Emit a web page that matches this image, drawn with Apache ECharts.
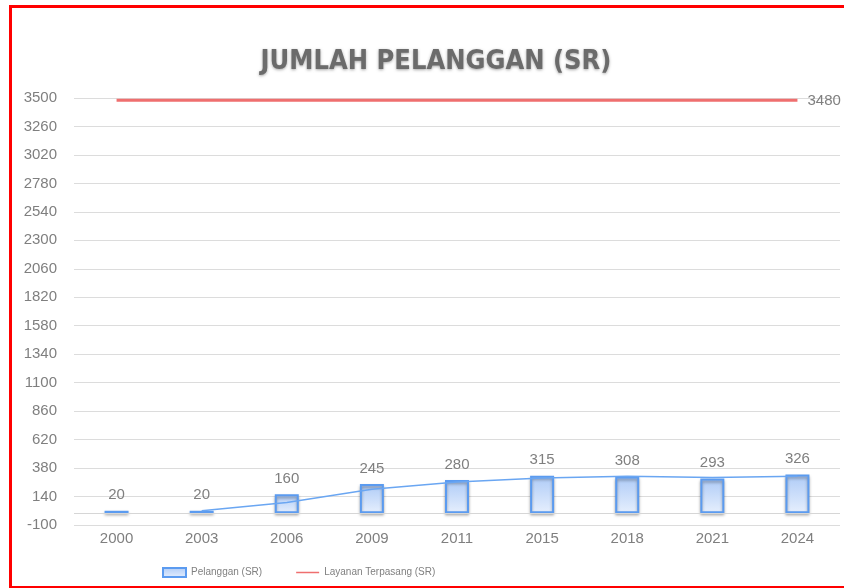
<!DOCTYPE html>
<html>
<head>
<meta charset="utf-8">
<script src="https://cdn.jsdelivr.net/npm/echarts@6/dist/echarts.min.js"></script>
<style>
html,body{margin:0;padding:0;background:#fff;overflow:hidden;}
#chart{position:absolute;left:0;top:0;width:844px;height:588px;}
#frame{position:absolute;left:9px;top:5px;width:900px;height:578px;border-top:3px solid #ff0000;border-left:3px solid #ff0000;border-bottom:2px solid #ff0000;pointer-events:none;}
</style>
</head>
<body>
<div id="chart"></div>
<div id="frame"></div>
<script>
var categories = ['2000','2003','2006','2009','2011','2015','2018','2021','2024'];
var pelanggan = [20, 20, 160, 245, 280, 315, 308, 293, 326];
var layanan = [3480, 3480, 3480, 3480, 3480, 3480, 3480, 3480, 3480];
var trendLine = [null, 20, 90, 202, 262, 297, 311, 300, 310];
var yMin = -100, yMax = 3500, yStep = 240;

var chart = echarts.init(document.getElementById('chart'));
var labelFont = 'Liberation Sans, Arial, sans-serif';
chart.setOption({
  animation: false,
  title: {
    text: 'JUMLAH PELANGGAN (SR)',
    left: 431, top: 43, textAlign: 'center',
    textStyle: {
      fontFamily: "'DejaVu Sans Condensed', sans-serif",
      fontWeight: 'bold', fontSize: 27, color: '#6b6b6b',
      textShadowColor: 'rgba(0,0,0,0.35)', textShadowBlur: 3, textShadowOffsetY: 1
    }
  },
  legend: {
    left: 157, top: 562, itemGap: 34, itemWidth: 23, itemHeight: 9,
    textStyle: {fontFamily: labelFont, fontSize: 10, color: '#808080'},
    data: [
      {name: 'Pelanggan (SR)', icon: 'rect'},
      {name: 'Layanan Terpasang (SR)', icon: 'path://M0,0 L46,0 L46,3 L0,3 Z'}
    ]
  },
  grid: {left: 74, right: 4, top: 98, bottom: 63, containLabel: false},
  xAxis: {
    type: 'category', data: categories,
    axisLine: {show: false}, axisTick: {show: false},
    axisLabel: {fontFamily: labelFont, fontSize: 15, color: '#7f7f7f', margin: 6}
  },
  yAxis: {
    type: 'value', min: yMin, max: yMax, interval: yStep,
    axisLine: {show: false}, axisTick: {show: false},
    axisLabel: {fontFamily: labelFont, fontSize: 15, color: '#7f7f7f', margin: 17,
      formatter: function(v){ return String(v); }},
    splitLine: {lineStyle: {color: '#dcdcdc', width: 1}}
  },
  series: [
    {
      name: 'Pelanggan (SR)', type: 'bar', data: pelanggan, barWidth: 24,
      itemStyle: {
        color: new echarts.graphic.LinearGradient(0,0,0,1,[{offset:0,color:'#aecbf7'},{offset:1,color:'#e6effd'}]),
        borderColor: '#5b9bf0', borderWidth: 2,
        shadowColor: 'rgba(0,0,0,0.35)', shadowBlur: 3, shadowOffsetY: 2
      },
      label: {show: true, position: 'top', distance: 8, fontFamily: labelFont, fontSize: 15, color: '#7f7f7f'},
      markLine: {
        silent: true, symbol: 'none', label: {show: false},
        lineStyle: {color: '#d6d6d6', type: 'solid', width: 1},
        data: [{yAxis: 0}]
      },
      z: 2
    },
    {
      name: 'trend', type: 'line', data: trendLine, showSymbol: false, symbol: 'none',
      lineStyle: {color: '#6aa6f2', width: 1.5}, z: 3, legendHoverLink: false
    },
    {
      name: 'Layanan Terpasang (SR)', type: 'line', data: layanan, showSymbol: false, symbol: 'none',
      lineStyle: {color: '#ef6f6f', width: 3},
      itemStyle: {color: '#ef6f6f'},
      label: {show: false},
      endLabel: {show: true, formatter: function(p){return p.value;}, fontFamily: labelFont, fontSize: 15, color: '#7f7f7f', distance: 10},
      z: 4
    }
  ]
});
</script>
</body>
</html>
